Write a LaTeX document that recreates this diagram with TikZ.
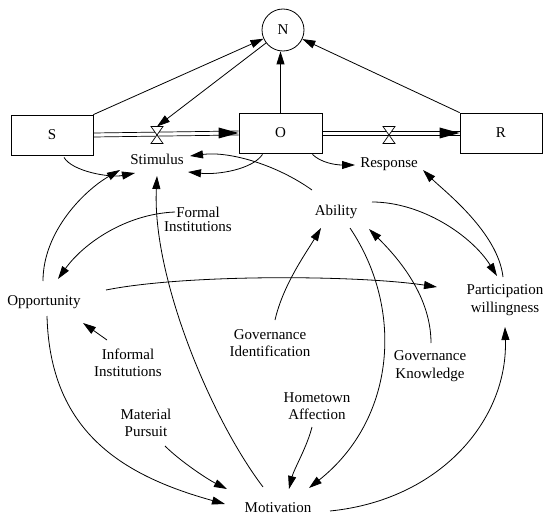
\documentclass[tikz,border=0pt]{standalone}
\usepackage{fontspec}
\setmainfont{Liberation Serif}
\usetikzlibrary{arrows.meta,calc}
\begin{document}
\begin{tikzpicture}[x=1pt,y=-1pt,
  lbl/.style={font=\fontsize{15}{17.5}\selectfont, inner sep=0pt, align=center},
  box/.style={draw, line width=0.8pt, minimum width=82pt, minimum height=40pt, inner sep=0pt, font=\fontsize{15}{17.5}\selectfont},
  arr/.style={line width=0.8pt, -{Triangle[length=13pt,width=8pt]}},
  pipe/.style={line width=0.7pt},
  valve/.style={line width=0.7pt, fill=white}
  ]
\useasboundingbox (0,0) rectangle (550,527);
% stocks and flows
\coordinate (vS) at (157,135);
\coordinate (vR) at (389,135);
\node[box] (S) at (52,135) {S};
\node[box, minimum width=83pt] (O) at (280.5,133) {O};
\node[box] (R) at (501,133) {R};
\node[draw, circle, line width=0.8pt, minimum size=42pt, inner sep=0pt, font=\fontsize{15}{17.5}\selectfont] (N) at (283,30) {N};
\draw[pipe] ($(S.east)+(0,-2)$) -- ($(O.west)+(0,-2)$);
\draw[pipe] ($(S.east)+(0,2)$) -- ($(O.west)+(0,2)$);
\draw[pipe] ($(O.east)+(0,-2)$) -- ($(R.west)+(0,-2)$);
\draw[pipe] ($(O.east)+(0,2)$) -- ($(R.west)+(0,2)$);
\fill (O.west) -- ++(-20,-5.5) -- ++(0,11) -- cycle;
\fill (R.west) -- ++(-20,-5.5) -- ++(0,11) -- cycle;
\draw[valve] ($(vS)+(-6,-8.5)$) -- ($(vS)+(6,-8.5)$) -- ($(vS)+(-6,8.5)$) -- ($(vS)+(6,8.5)$) -- cycle;
\draw[valve] ($(vR)+(-6,-8.5)$) -- ($(vR)+(6,-8.5)$) -- ($(vR)+(-6,8.5)$) -- ($(vR)+(6,8.5)$) -- cycle;
% labels
\node[lbl] (Stim) at (157,159) {Stimulus};
\node[lbl] (Resp) at (389,164) {Response};
\node[lbl] (Abil) at (336,212) {Ability};
\node[lbl, font=\fontsize{15}{14}\selectfont] (Form) at (198,219) {Formal\\Institutions};
\node[lbl] (Opp) at (44,302) {Opportunity};
\node[lbl] (PW) at (505,300) {Participation\\willingness};
\node[lbl] (GI) at (270,343) {Governance\\Identification};
\node[lbl] (GK) at (430,366) {Governance\\Knowledge};
\node[lbl] (HA) at (317,406) {Hometown\\Affection};
\node[lbl] (II) at (128,363) {Informal\\Institutions};
\node[lbl] (MP) at (146,423) {Material\\Pursuit};
\node[lbl] (Mot) at (278,508) {Motivation};
% connectors to N
\draw[arr] (S.north east) -- (N);
\draw[arr] (N) -- ($(vS)+(0,-8.5)$);
\draw[arr] (O.north) -- (O.north |- N.south);
\draw[arr] (R.north west) -- (N);
% causal links
\draw[arr] ($(S.south)+(12,2)$) .. controls +(8,14) and +(-25,5) .. ($(Stim)+(-22,14)$);
\draw[arr] ($(Opp)+(-1,-21)$) .. controls +(0,-50) and +(-35,20) .. ($(Stim)+(-37,11)$);
\draw[arr] ($(O.south)+(-18,1)$) .. controls +(-10,15) and +(30,3) .. ($(Stim)+(31,13)$);
\draw[arr] ($(Abil)+(-24,-22)$) .. controls +(-35,-25) and +(40,-5) .. ($(Stim)+(33,-3)$);
\draw[arr] ($(O.south)+(32,1)$) .. controls +(8,8) and +(-20,0) .. ($(Resp)+(-34,1)$);
\draw[arr] ($(PW)+(-2,-23)$) .. controls +(-5,-45) and +(20,20) .. ($(Resp)+(34,6)$);
\draw[arr] ($(Abil)+(36,-10)$) .. controls +(50,0) and +(-25,-40) .. ($(PW)+(-8,-24)$);
\draw[arr] ($(Form)+(-23,-7)$) .. controls +(-50,2) and +(25,-35) .. ($(Opp)+(14,-23)$);
\draw[arr] ($(Mot)+(-15,-21)$) .. controls +(-53,-70) and +(-5,100) .. ($(Stim)+(0,17)$);
\draw[arr] ($(Opp)+(62,-12)$) .. controls +(80,-16) and +(-80,-12) .. ($(PW)+(-68,-13)$);
\draw[arr] ($(Opp)+(3,14)$) .. controls +(3,114) and +(-105,-29) .. ($(Mot)+(-53,-4)$);
\draw[arr] ($(II)+(-21,-23)$) -- ($(Opp)+(39,21)$);
\draw[arr] ($(MP)+(19,23)$) .. controls +(15,15) and +(-20,-10) .. ($(Mot)+(-51,-19)$);
\draw[arr] ($(GI)+(5,-23)$) .. controls +(8,-35) and +(-15,25) .. ($(Abil)+(-15,16)$);
\draw[arr] ($(Abil)+(14,16)$) .. controls +(55,82) and +(86,-68) .. ($(Mot)+(31,-20)$);
\draw[arr] ($(GK)+(1,-23)$) .. controls +(0,-50) and +(25,25) .. ($(Abil)+(33,17)$);
\draw[arr] ($(HA)+(-5,21)$) .. controls +(-5,20) and +(5,-20) .. ($(Mot)+(11,-19)$);
\draw[arr] ($(Mot)+(52,3)$) .. controls +(110,-11) and +(3,93) .. ($(PW)+(0,27)$);
\end{tikzpicture}
\end{document}
